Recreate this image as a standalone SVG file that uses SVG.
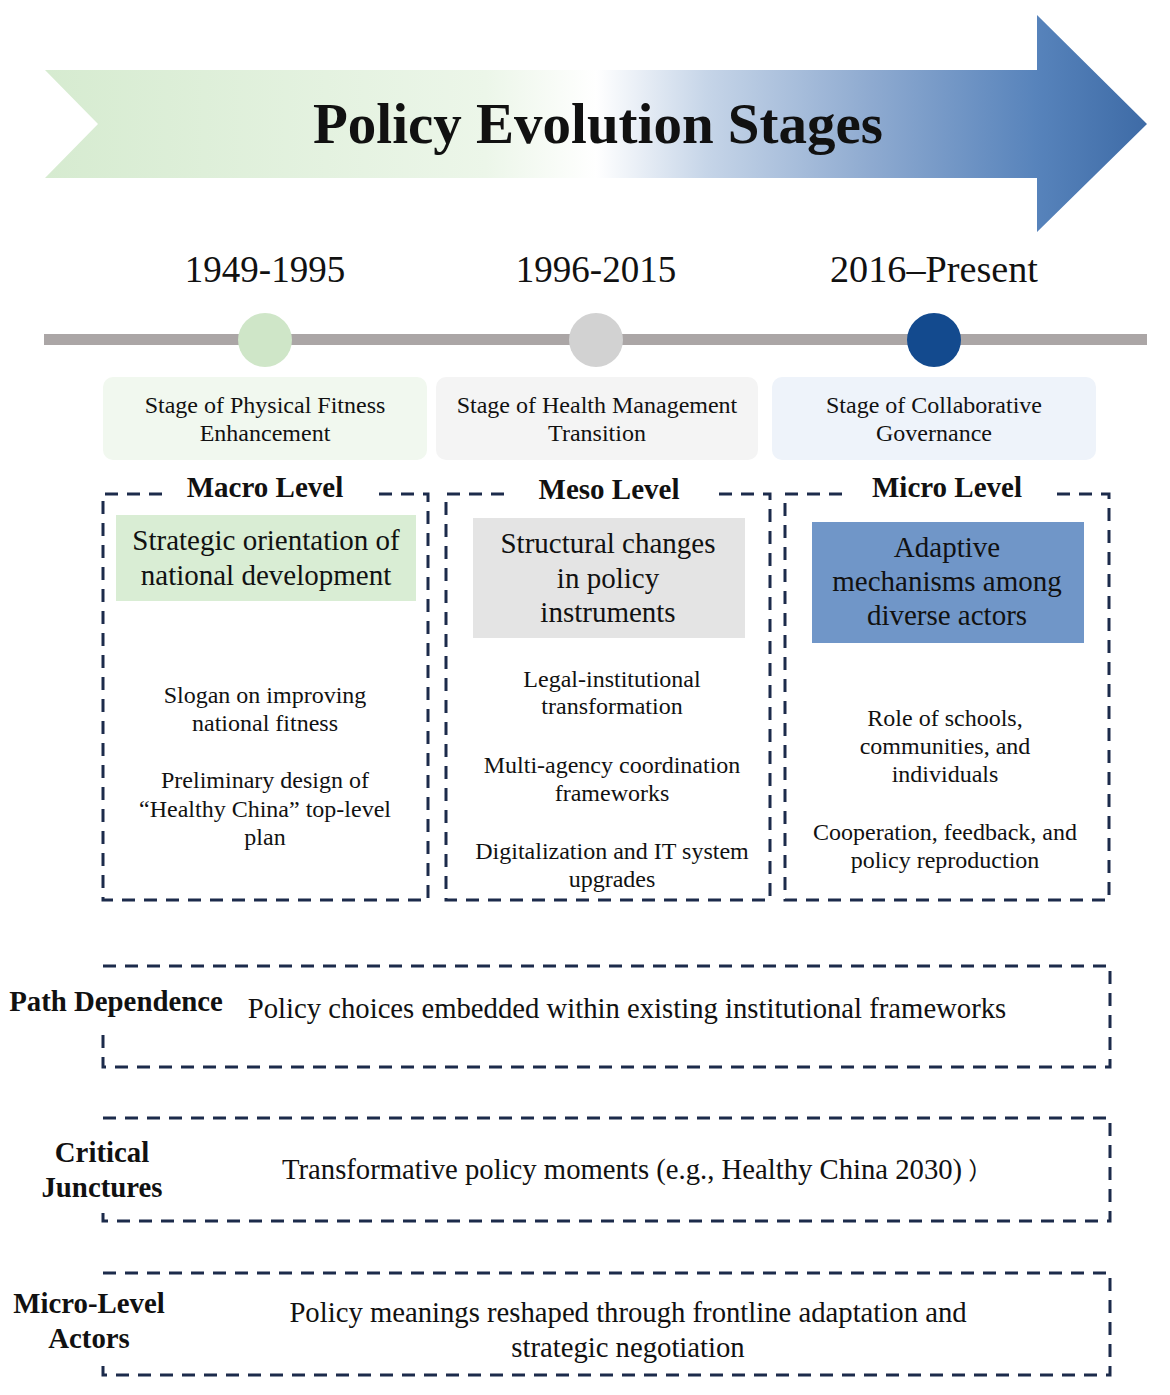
<svg xmlns="http://www.w3.org/2000/svg" width="1170" height="1395" viewBox="0 0 1170 1395">
<style>
  text { font-family: "Liberation Serif", "Times New Roman", serif; fill: #111; }
  .title { font-size: 57px; font-weight: bold; text-anchor: middle; }
  .year { font-size: 37px; text-anchor: middle; }
  .stage { font-size: 24px; text-anchor: middle; }
  .lvl { font-size: 29px; font-weight: bold; text-anchor: middle; }
  .head { font-size: 29px; text-anchor: middle; }
  .body { font-size: 24px; text-anchor: middle; }
  .lab { font-size: 28.8px; font-weight: bold; text-anchor: middle; }
  .desc { font-size: 28.7px; text-anchor: middle; }
  .dash { fill: none; stroke: #1c2b4b; stroke-width: 3; stroke-dasharray: 13 9; }
</style>
<defs>
  <linearGradient id="arrowGrad" x1="45" y1="0" x2="1147" y2="0" gradientUnits="userSpaceOnUse">
    <stop offset="0" stop-color="#d6ebd0"/>
    <stop offset="0.4" stop-color="#ecf6e9"/>
    <stop offset="0.5" stop-color="#ffffff"/>
    <stop offset="0.6" stop-color="#c6d5e8"/>
    <stop offset="0.75" stop-color="#8eaad0"/>
    <stop offset="0.9" stop-color="#5783bb"/>
    <stop offset="1" stop-color="#3e6ba6"/>
  </linearGradient>
</defs>
<rect width="1170" height="1395" fill="#ffffff"/>

<g id="title-arrow">
  <polygon points="45,70 1037,70 1037,15 1147,124 1037,232 1037,178 45,178 98,124" fill="url(#arrowGrad)"/>
  <text class="title" x="598" y="143">Policy Evolution Stages</text>
</g>

<g id="timeline">
  <rect x="44" y="334" width="1103" height="11" fill="#aba6a6"/>
  <circle cx="265" cy="340" r="27" fill="#cfe6c8"/>
  <circle cx="596" cy="340" r="27" fill="#d2d2d2"/>
  <circle cx="934" cy="340" r="27" fill="#134a8e"/>
  <text class="year" x="265" y="282">1949-1995</text>
  <text class="year" x="596" y="282">1996-2015</text>
  <text class="year" x="934" y="282" textLength="208" lengthAdjust="spacingAndGlyphs">2016–Present</text>
</g>

<g id="stage1">
  <rect x="103" y="377" width="324" height="83" rx="10" fill="#f1f8ef"/>
  <text class="stage" x="265" y="413">Stage of Physical Fitness</text>
  <text class="stage" x="265" y="441">Enhancement</text>
</g>
<g id="stage2">
  <rect x="436" y="377" width="322" height="83" rx="10" fill="#f4f4f4"/>
  <text class="stage" x="597" y="413">Stage of Health Management</text>
  <text class="stage" x="597" y="441">Transition</text>
</g>
<g id="stage3">
  <rect x="772" y="377" width="324" height="83" rx="10" fill="#eef3fa"/>
  <text class="stage" x="934" y="413">Stage of Collaborative</text>
  <text class="stage" x="934" y="441">Governance</text>
</g>

<g id="macro">
  <path class="dash" d="M162,494 H103 V900 H428 V494 H372"/>
  <text class="lvl" x="265" y="497">Macro Level</text>
  <rect x="116" y="515" width="300" height="86" fill="#d9edd4"/>
  <text class="head" x="266" y="550">Strategic orientation of</text>
  <text class="head" x="266" y="585">national development</text>
  <text class="body" x="265" y="703">Slogan on improving</text>
  <text class="body" x="265" y="731">national fitness</text>
  <text class="body" x="265" y="788">Preliminary design of</text>
  <text class="body" x="265" y="817">“Healthy China” top-level</text>
  <text class="body" x="265" y="845">plan</text>
</g>

<g id="meso">
  <path class="dash" d="M504,494 H446 V900 H770 V494 H716"/>
  <text class="lvl" x="609" y="499">Meso Level</text>
  <rect x="473" y="518" width="272" height="120" fill="#e4e4e4"/>
  <text class="head" x="608" y="553">Structural changes</text>
  <text class="head" x="608" y="588">in policy</text>
  <text class="head" x="608" y="622">instruments</text>
  <text class="body" x="612" y="687">Legal-institutional</text>
  <text class="body" x="612" y="714">transformation</text>
  <text class="body" x="612" y="773">Multi-agency coordination</text>
  <text class="body" x="612" y="801">frameworks</text>
  <text class="body" x="612" y="859">Digitalization and IT system</text>
  <text class="body" x="612" y="887">upgrades</text>
</g>

<g id="micro">
  <path class="dash" d="M842,494 H785 V900 H1109 V494 H1056"/>
  <text class="lvl" x="947" y="497">Micro Level</text>
  <rect x="812" y="522" width="272" height="121" fill="#7096c8"/>
  <text class="head" x="947" y="557">Adaptive</text>
  <text class="head" x="947" y="591">mechanisms among</text>
  <text class="head" x="947" y="625">diverse actors</text>
  <text class="body" x="945" y="726">Role of schools,</text>
  <text class="body" x="945" y="754">communities, and</text>
  <text class="body" x="945" y="782">individuals</text>
  <text class="body" x="945" y="840">Cooperation, feedback, and</text>
  <text class="body" x="945" y="868">policy reproduction</text>
</g>

<g id="path-dependence">
  <path class="dash" d="M103,966 H1110 V1067 H103 V1030"/>
  <text class="lab" x="116" y="1011">Path Dependence</text>
  <text class="desc" x="627" y="1018">Policy choices embedded within existing institutional frameworks</text>
</g>

<g id="critical-junctures">
  <path class="dash" d="M103,1118 H1110 V1221 H103 V1210"/>
  <text class="lab" x="102" y="1162">Critical</text>
  <text class="lab" x="102" y="1197">Junctures</text>
  <text class="desc" x="282" y="1179" style="text-anchor: start;">Transformative policy moments (e.g., Healthy China 2030)<tspan font-family="'Noto Sans CJK SC', sans-serif" font-size="24" dx="6">）</tspan></text>
</g>

<g id="micro-level-actors">
  <path class="dash" d="M103,1273 H1110 V1375 H103 V1365"/>
  <text class="lab" x="89" y="1313">Micro-Level</text>
  <text class="lab" x="89" y="1348">Actors</text>
  <text class="desc" x="628" y="1322">Policy meanings reshaped through frontline adaptation and</text>
  <text class="desc" x="628" y="1357">strategic negotiation</text>
</g>

<g id="connectors"></g>
</svg>
